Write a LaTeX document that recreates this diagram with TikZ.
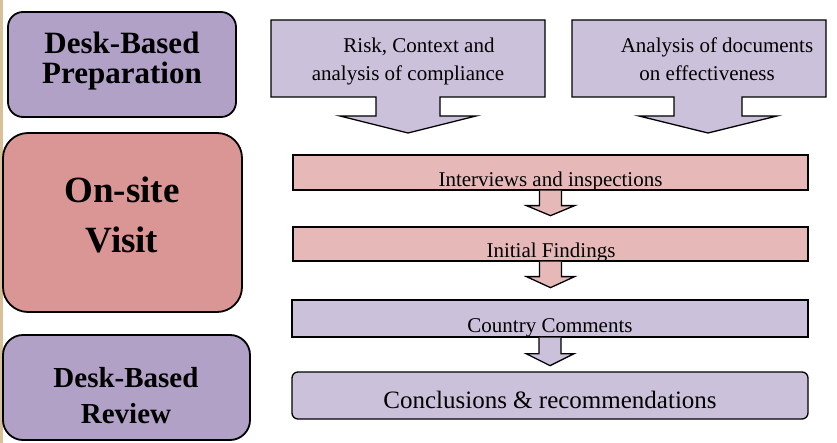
\documentclass[tikz,border=0pt]{standalone}
\usepackage{fontspec}
\setmainfont{Liberation Serif}
\usetikzlibrary{positioning}
\definecolor{deskpurple}{RGB}{178, 161, 199}
\definecolor{sitered}{RGB}{217, 150, 148}
\definecolor{lilac}{RGB}{204, 193, 218}
\definecolor{rosebar}{RGB}{230, 185, 184}
\definecolor{slidetan}{RGB}{216, 192, 152}

% box with a block arrow hanging below it: left, right, shaft l/r, head l/r, tip
\newcommand{\callout}[7]{%
  \filldraw[calloutbox] (#1,20) -- (#2,20) -- (#2,97) -- (#4,97) -- (#4,116) -- (#6,116)
    -- (#7,133) -- (#5,116) -- (#3,116) -- (#3,97) -- (#1,97) -- cycle;}
% small block arrow under a bar: start, shaft length, tip depth, fill
\newcommand{\stepdown}[4]{%
  \filldraw[thin arrow, fill=#4, shift={(#1)}] (-11,0) -- (-11,#2) -- (-24,#2) -- (0,#3)
    -- (24,#2) -- (11,#2) -- (11,0);}

\begin{document}
\begin{tikzpicture}[x=1pt, y=-1pt,
  phase/.style={draw=black, line width=1.8pt, inner sep=0pt},
  phasetext/.style={align=center, font=\bfseries},
  calloutbox/.style={draw=black, fill=lilac, line width=1.3pt},
  bar/.style={draw=black, line width=1.3pt, inner sep=0pt, minimum width=515, minimum height=35},
  thin arrow/.style={draw=black, line width=1.3pt, line join=miter},
  bartext/.style={anchor=base, inner sep=0pt}]
\useasboundingbox (0,0) rectangle (837,443);
\fill[white] (0,0) rectangle (837,443);
\fill[slidetan] (0,0) rectangle (3,443);

% left column: the three phases
\node[phase, fill=deskpurple, rounded corners=15, minimum width=228, minimum height=105] (prep) at (122,64.5) {};
\node[phase, fill=sitered, rounded corners=25, minimum width=239, minimum height=179] (visit) at (122.5,222.5) {};
\node[phase, fill=deskpurple, rounded corners=20, minimum width=247, minimum height=105] (review) at (126.5,387.5) {};

\node[phasetext, font=\bfseries\fontsize{31}{30}\selectfont] (prep-t) at (122,61) {Desk-Based\\Preparation};
\node[phasetext, font=\bfseries\fontsize{37}{50}\selectfont] (visit-t) at (122,215.3) {On-site\\Visit};
\node[phasetext, font=\bfseries\fontsize{29}{36}\selectfont] (review-t) at (126,395.2) {Desk-Based\\Review};

% desk-based preparation
\callout{271}{545}{376}{440}{340}{476}{408}
\callout{572}{826}{674}{742}{639}{777}{708}
\node[align=center, font=\fontsize{21}{28}\selectfont] (risk) at (408,61.2) {\hspace*{22pt}Risk, Context and\\analysis of compliance};
\node[align=center, font=\fontsize{21}{28}\selectfont] (docs) at (712,58.9) {\hspace*{10pt}Analysis of documents\\on effectiveness\hspace*{10pt}};

% on-site visit
\node[bar, fill=rosebar] (interviews) at (550.5,172.5) {};
\node[bar, fill=rosebar, minimum height=34] (findings) at (550.5,244) {};
\stepdown{interviews.south}{15}{25}{rosebar}
\stepdown{findings.south}{15}{26}{rosebar}
\node[bartext, font=\fontsize{21}{24}\selectfont] (interviews-t) at (550.5,187) {Interviews and inspections};
\node[bartext, font=\fontsize{21}{24}\selectfont] (findings-t) at (551,258) {Initial Findings};

% desk-based review
\node[bar, fill=lilac, minimum width=516, minimum height=37] (comments) at (550,318.5) {};
\stepdown{comments.south}{16}{28}{lilac}
\node[draw=black, line width=1.3pt, fill=lilac, rounded corners=6, minimum width=516, minimum height=47, inner sep=0pt] (conclusions) at (550,395.5) {};
\node[bartext, font=\fontsize{21}{24}\selectfont] (comments-t) at (550,332) {Country Comments};
\node[bartext, font=\fontsize{25}{28}\selectfont] (conclusions-t) at (550,408) {Conclusions \& recommendations};
\end{tikzpicture}
\end{document}
